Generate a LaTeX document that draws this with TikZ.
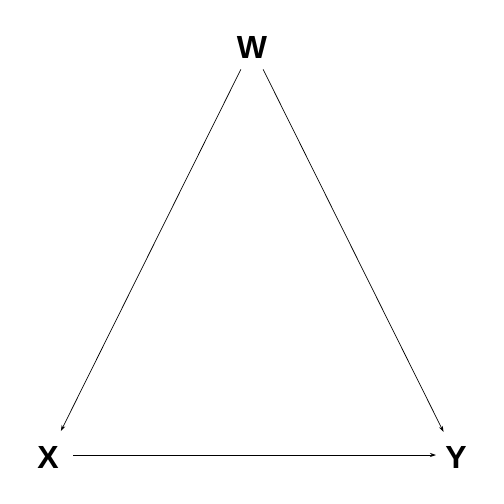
\documentclass[tikz,border=0pt]{standalone}
\usepackage{fontspec}
\setmainfont{Liberation Sans}
\usetikzlibrary{arrows.meta}
\begin{document}
\begin{tikzpicture}[x=1pt,y=-1pt,
  var/.style={font=\fontsize{32}{36}\selectfont\bfseries, inner sep=0pt, outer sep=0pt},
  edge/.style={line width=0.7pt, -{Stealth[length=6pt,width=4pt]}}]
\useasboundingbox (0,0) rectangle (504,504);
\node[var] (W) at (252,47) {W};
\node[var] (X) at (48,457) {X};
\node[var] (Y) at (456,457) {Y};
\draw[edge, shorten <=25pt, shorten >=29pt] (W.center) -- (X.center);
\draw[edge, shorten <=25pt, shorten >=28pt] (W.center) -- (Y.center);
\draw[edge, shorten <=25pt, shorten >=20pt] ([yshift=2pt]X.center) -- ([yshift=2pt]Y.center);
\end{tikzpicture}
\end{document}
